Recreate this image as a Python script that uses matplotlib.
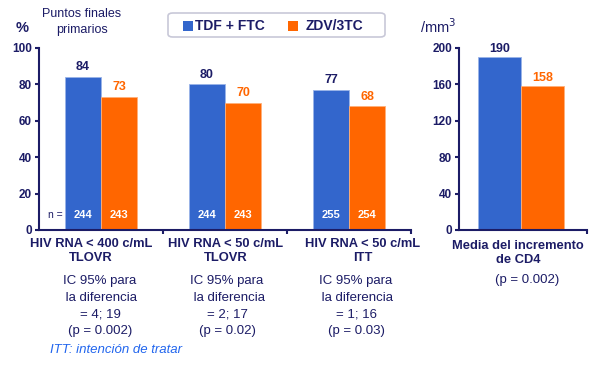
import matplotlib
matplotlib.use("Agg")
import matplotlib.pyplot as plt
from matplotlib.patches import FancyBboxPatch, Rectangle

plt.rcParams['font.family'] = ['Liberation Sans', 'DejaVu Sans']

categories = ["HIV RNA < 400 c/mL\nTLOVR", "HIV RNA < 50 c/mL\nTLOVR", "HIV RNA < 50 c/mL\nITT"]
tdf_ftc = [84, 80, 77]
zdv_3tc = [73, 70, 68]
n_tdf = [244, 244, 255]
n_zdv = [243, 243, 254]
ic_texts = ["IC 95% para\n la diferencia\n= 4; 19\n(p = 0.002)",
            "IC 95% para\n la diferencia\n= 2; 17\n(p = 0.02)",
            "IC 95% para\n la diferencia\n= 1; 16\n(p = 0.03)"]
cd4_category = "Media del incremento\nde CD4"
cd4_tdf = 190
cd4_zdv = 158
left_yticks = [0, 20, 40, 60, 80, 100]
right_yticks = [0, 40, 80, 120, 160, 200]
series_names = ["TDF + FTC", "ZDV/3TC"]

BLUE = "#3366CC"
ORANGE = "#FF6600"
NAVY = "#1C1C66"

W, H = 600, 368
fig = plt.figure(figsize=(6, 3.68), dpi=100)

def px_axes(x0, y0, x1, y1):
    return fig.add_axes([x0 / W, 1 - y1 / H, (x1 - x0) / W, (y1 - y0) / H])

def style(ax, yticks, ymax):
    ax.set_ylim(0, ymax)
    ax.set_yticks(yticks)
    for s in ['top', 'right']:
        ax.spines[s].set_visible(False)
    for s in ['left', 'bottom']:
        ax.spines[s].set_color(NAVY)
        ax.spines[s].set_linewidth(1.5)
    ax.tick_params(axis='y', direction='out', length=3, width=1.5, color=NAVY,
                   labelsize=8.5, labelcolor=NAVY, pad=2)
    for lab in ax.get_yticklabels():
        lab.set_fontweight('bold')
    ax.patch.set_alpha(0)

# Left axes
ax = px_axes(39, 48, 411, 230)
bw = 0.29
for i in range(3):
    c = i + 0.5
    ax.bar(c - bw / 2, tdf_ftc[i], width=bw, color=BLUE, edgecolor="#9AB4E8", linewidth=0.6)
    ax.bar(c + bw / 2, zdv_3tc[i], width=bw, color=ORANGE, edgecolor="#FFB07A", linewidth=0.6)
    ax.text(c - bw / 2, tdf_ftc[i] + 2, str(tdf_ftc[i]), ha='center', va='bottom',
            color=NAVY, fontsize=9, fontweight='bold')
    ax.text(c + bw / 2, zdv_3tc[i] + 2, str(zdv_3tc[i]), ha='center', va='bottom',
            color=ORANGE, fontsize=9, fontweight='bold')
    ax.text(c - bw / 2, 8, str(n_tdf[i]), ha='center', va='center',
            color='white', fontsize=8, fontweight='bold')
    ax.text(c + bw / 2, 8, str(n_zdv[i]), ha='center', va='center',
            color='white', fontsize=8, fontweight='bold')
ax.text(0.13, 8, "n =", ha='center', va='center', color=NAVY, fontsize=7.5)
ax.set_xlim(0, 3)
style(ax, left_yticks, 100)
ax.set_xticks([1, 2, 3])
ax.set_xticklabels([])
ax.tick_params(axis='x', direction='out', length=3, width=1.5, color=NAVY)

# Right axes
ax2 = px_axes(459, 48, 587, 230)
bw2 = 0.335
c2 = 0.483
ax2.bar(c2 - bw2 / 2, cd4_tdf, width=bw2, color=BLUE, edgecolor="#9AB4E8", linewidth=0.6)
ax2.bar(c2 + bw2 / 2, cd4_zdv, width=bw2, color=ORANGE, edgecolor="#FFB07A", linewidth=0.6)
ax2.text(c2 - bw2 / 2, cd4_tdf + 2, str(cd4_tdf), ha='center', va='bottom',
         color=NAVY, fontsize=9, fontweight='bold')
ax2.text(c2 + bw2 / 2, cd4_zdv + 2, str(cd4_zdv), ha='center', va='bottom',
         color=ORANGE, fontsize=9, fontweight='bold')
ax2.set_xlim(0, 1)
style(ax2, right_yticks, 200)
ax2.set_xticks([1])
ax2.set_xticklabels([])
ax2.tick_params(axis='x', direction='out', length=3, width=1.5, color=NAVY)

# Figure text in pixel coords
def ftext(x, y, s, **kw):
    fig.text(x / W, 1 - y / H, s, **kw)

label_x = [91, 226, 363]
ic_x = [100, 227, 356]
for i in range(3):
    ftext(label_x[i], 251, categories[i], ha='center', va='center',
          color=NAVY, fontsize=9.3, fontweight='bold', linespacing=1.25)
    ftext(ic_x[i], 306, ic_texts[i], ha='center', va='center', color=NAVY,
          fontsize=9.5, linespacing=1.5)

ftext(22, 28, "%", ha='center', va='center', color=NAVY, fontsize=10.5, fontweight='bold')
ftext(82, 22, "Puntos finales\nprimarios", ha='center', va='center', color=NAVY,
      fontsize=9, linespacing=1.5)
ftext(438, 27, "/mm$^3$", ha='center', va='center', color=NAVY, fontsize=10.5)

ftext(518, 253, cd4_category, ha='center', va='center', color=NAVY, fontsize=9.3,
      fontweight='bold', linespacing=1.25)
ftext(527, 280, "(p = 0.002)", ha='center', va='center', color=NAVY, fontsize=9.5)
ftext(50, 350, "ITT: intención de tratar", ha='left', va='center', color="#2266EE",
      fontsize=9.5, style='italic')

# Legend box
lx0, ly0, lx1, ly1 = 168, 13, 385, 37
box = FancyBboxPatch((lx0 / W, 1 - ly1 / H), (lx1 - lx0) / W, (ly1 - ly0) / H,
                     boxstyle="round,pad=0,rounding_size=0.008", transform=fig.transFigure,
                     facecolor='white', edgecolor='#C8C8D8', linewidth=1.2)
fig.patches.append(box)
for (sx, col, name, tx) in [(183, BLUE, series_names[0], 195), (288, ORANGE, series_names[1], 306)]:
    fig.patches.append(Rectangle((sx / W, 1 - 31 / H), 10 / W, 10 / H,
                                 transform=fig.transFigure, facecolor=col, edgecolor='none'))
    ftext(tx, 26, name, ha='left', va='center', color=NAVY, fontsize=10, fontweight='bold')

fig.savefig("out.png", dpi=100)
